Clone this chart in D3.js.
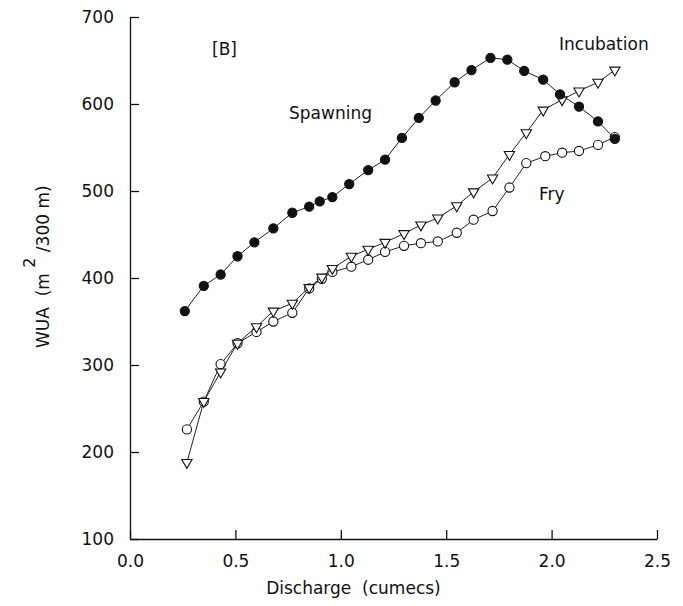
<!DOCTYPE html>
<html>
<head>
<meta charset="utf-8">
<script src="https://cdn.jsdelivr.net/npm/d3@7"></script>
<style>
  body { margin: 0; background: #fff; }
  text { font-family: "DejaVu Sans", sans-serif; fill: #111; white-space: pre; }
</style>
</head>
<body>
<svg></svg>
<script>
const width = 683;
const height = 606;

// discharge (cumecs)
const spawnQ = [0.26, 0.35, 0.43, 0.51, 0.59, 0.68, 0.77, 0.85, 0.90, 0.96, 1.04, 1.13, 1.21, 1.29, 1.37, 1.45, 1.54, 1.62, 1.71, 1.79, 1.87, 1.96, 2.04, 2.13, 2.22, 2.30];
const spawnWUA = [362, 391, 404, 425, 441, 457, 475, 482, 488, 493, 508, 524, 536, 561, 584, 604, 625, 639, 653, 651, 638, 628, 611, 597, 580, 560];

const incQ = [0.27, 0.35, 0.43, 0.51, 0.60, 0.68, 0.77, 0.85, 0.91, 0.96, 1.05, 1.13, 1.21, 1.30, 1.38, 1.46, 1.55, 1.63, 1.72, 1.80, 1.88, 1.96, 2.05, 2.13, 2.22, 2.30];
const incWUA = [188, 258, 292, 325, 344, 362, 371, 389, 401, 411, 425, 433, 441, 451, 461, 469, 483, 499, 515, 542, 567, 593, 605, 615, 625, 639];

const fryQ = [0.27, 0.35, 0.43, 0.51, 0.60, 0.68, 0.77, 0.85, 0.91, 0.96, 1.05, 1.13, 1.21, 1.30, 1.38, 1.46, 1.55, 1.63, 1.72, 1.80, 1.88, 1.97, 2.05, 2.13, 2.22, 2.30];
const fryWUA = [226, 258, 301, 325, 338, 350, 360, 388, 399, 407, 413, 421, 430, 437, 440, 442, 452, 467, 477, 504, 532, 540, 544, 546, 553, 562];

const xTicks = [0.0, 0.5, 1.0, 1.5, 2.0, 2.5];
const yTicks = [100, 200, 300, 400, 500, 600, 700];

let xScale;
let yScale;

const svg = d3.select("svg");

const setSize = () => {
    svg.attr("width", width);
    svg.attr("height", height);
}

const setScales = () => {
    xScale = d3.scaleLinear()
    .domain([0, 2.5])
    .range([130, 657])

    yScale = d3.scaleLinear()
    .domain([100, 700])
    .range([539, 17])
}

const setAxes = () => {
    const xAxis = d3.axisTop(xScale)
    .tickValues(xTicks)
    .tickFormat(d3.format(".1f"))
    .tickSize(9)
    .tickSizeOuter(0)

    const gx = svg.append("g")
    .attr("id", "x-axis")
    .attr("transform", "translate(0," + yScale(100) + ")")
    .call(xAxis)

    gx.selectAll("text")
    .attr("y", 16)
    .attr("dy", "0.71em")
    .style("font-size", "17px")

    const yAxis = d3.axisRight(yScale)
    .tickValues(yTicks)
    .tickSize(9)
    .tickSizeOuter(0)

    const gy = svg.append("g")
    .attr("id", "y-axis")
    .attr("transform", "translate(" + xScale(0) + ",0)")
    .call(yAxis)

    gy.selectAll("text")
    .attr("x", -16)
    .attr("text-anchor", "end")
    .style("font-size", "17px")

    svg.selectAll(".domain, .tick line")
    .attr("stroke", "#111")
    .attr("stroke-width", 1.3)

    svg.append("text")
    .attr("x", xScale(1.06))
    .attr("y", 594)
    .attr("text-anchor", "middle")
    .style("font-size", "17px")
    .text("Discharge  (cumecs)")

    const yLabel = svg.append("text")
    .attr("transform", "translate(49," + yScale(413) + ") rotate(-90)")
    .attr("text-anchor", "middle")
    .style("font-size", "17px")

    yLabel.append("tspan").text("WUA  (m ")
    yLabel.append("tspan").attr("dy", -14).style("font-size", "16px").text("2")
    yLabel.append("tspan").attr("dy", 14).text(" /300 m)")
}

const drawSeries = (qs, vals, kind) => {
    const pts = qs.map((q, i) => [q, vals[i]])

    const line = d3.line()
    .x((d) => xScale(d[0]))
    .y((d) => yScale(d[1]))

    svg.append("path")
    .datum(pts)
    .attr("d", line)
    .attr("fill", "none")
    .attr("stroke", "#222")
    .attr("stroke-width", 1)

    if (kind === "tri") {
        const tri = d3.symbol().type(d3.symbolTriangle).size(46)
        svg.selectAll(null)
        .data(pts)
        .enter()
        .append("path")
        .attr("d", tri)
        .attr("transform", (d) => "translate(" + xScale(d[0]) + "," + yScale(d[1]) + ") rotate(180)")
        .attr("fill", "#fff")
        .attr("stroke", "#111")
        .attr("stroke-width", 1.1)
    } else {
        svg.selectAll(null)
        .data(pts)
        .enter()
        .append("circle")
        .attr("cx", (d) => xScale(d[0]))
        .attr("cy", (d) => yScale(d[1]))
        .attr("r", 4.6)
        .attr("fill", kind === "filled" ? "#111" : "#fff")
        .attr("stroke", "#111")
        .attr("stroke-width", 1.1)
    }
}

const setLabels = () => {
    svg.append("text").attr("x", 212).attr("y", 55).style("font-size", "17px").text("[B]")
    svg.append("text").attr("x", 289).attr("y", 119).style("font-size", "17px").text("Spawning")
    svg.append("text").attr("x", 559).attr("y", 50).style("font-size", "17px").text("Incubation")
    svg.append("text").attr("x", 539).attr("y", 200).style("font-size", "17px").text("Fry")
}

setSize();
setScales();
setAxes();
drawSeries(fryQ, fryWUA, "open");
drawSeries(incQ, incWUA, "tri");
drawSeries(spawnQ, spawnWUA, "filled");
setLabels();
</script>
</body>
</html>
